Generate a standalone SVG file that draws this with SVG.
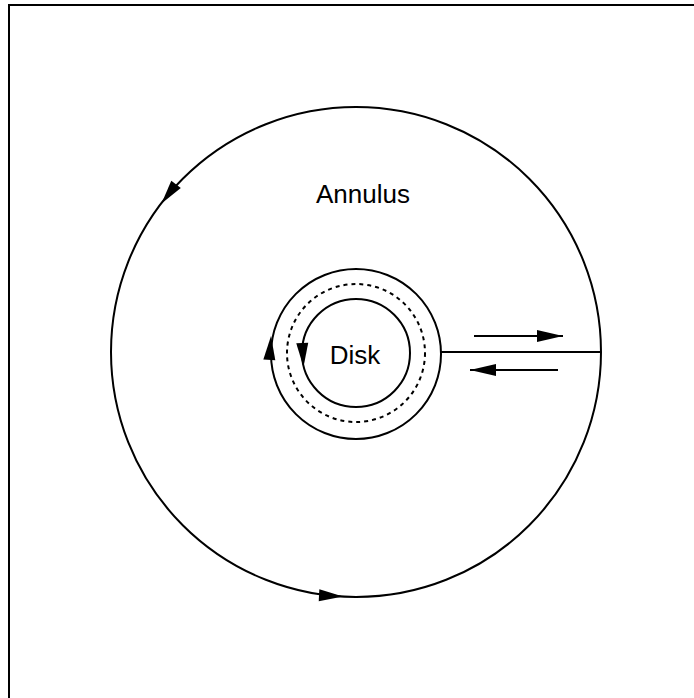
<svg xmlns="http://www.w3.org/2000/svg" xmlns:xlink="http://www.w3.org/1999/xlink" width="694" height="698" viewBox="0 0 694 698">
  <style>
    .ln { fill: none; stroke: #000; stroke-width: 2; }
    .dash { fill: none; stroke: #000; stroke-width: 2; stroke-dasharray: 4 4; }
    .lbl { font-family: "Liberation Sans", Arial, sans-serif; font-size: 26px; fill: #000; text-anchor: middle; }
    .ah { fill: #000; stroke: none; }
  </style>
  <defs>
    <path id="ah" class="ah" d="M0,0 L-24,-6 L-24,6 Z"/>
    <marker id="arr" markerUnits="userSpaceOnUse" markerWidth="26" markerHeight="14" refX="24" refY="6" orient="auto" viewBox="0 0 24 12">
      <path d="M0,0.5 L24,6 L0,11.5 Z" fill="#000"/>
    </marker>
  </defs>
  <rect width="694" height="698" fill="#fff"/>
  <rect id="frame" x="9" y="5" width="720" height="720" class="ln"/>

  <g id="annulus">
    <circle cx="356" cy="352" r="245" class="ln"/>
    <text class="lbl" x="363" y="203" font-size="27">Annulus</text>
  </g>

  <g id="boundary">
    <circle cx="356" cy="354" r="85" class="ln"/>
  </g>

  <g id="dashed-ring">
    <circle cx="356" cy="353" r="69" class="dash"/>
  </g>

  <g id="disk">
    <circle cx="356" cy="353" r="54" class="ln"/>
    <text class="lbl" x="355" y="364">Disk</text>
  </g>

  <g id="connectors">
    <line x1="441" y1="352" x2="601" y2="352" class="ln"/>
    <line x1="474" y1="336" x2="563" y2="336" class="ln" marker-end="url(#arr)"/>
    <line x1="558" y1="370" x2="470" y2="370" class="ln" marker-end="url(#arr)"/>
    <use xlink:href="#ah" transform="translate(161.5,203.5) rotate(127.3)"/>
    <use xlink:href="#ah" transform="translate(343,596.5) rotate(3)"/>
    <use xlink:href="#ah" transform="translate(271,336) rotate(-86)"/>
    <use xlink:href="#ah" transform="translate(303.5,367) rotate(87)"/>
  </g>
</svg>
